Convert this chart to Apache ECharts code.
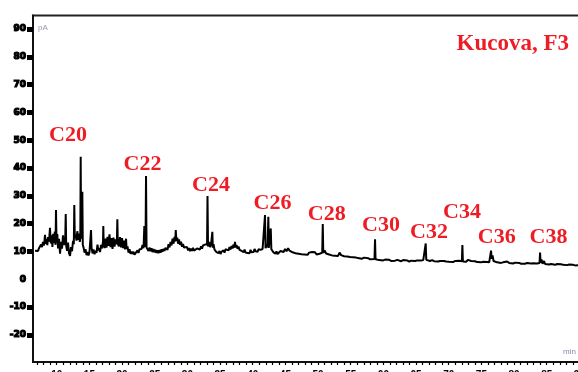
<!DOCTYPE html>
<html><head><meta charset="utf-8">
<script src="https://cdn.jsdelivr.net/npm/echarts@6/dist/echarts.min.js"></script>
<style>html,body{margin:0;padding:0;background:#fff}#c{width:578px;height:372px}</style>
</head><body><div id="c"></div>
<script>
// retention time (min), detector signal (pA)
const trace = [
[6.68,10.3],[6.83,10.0],[6.98,10.6],[7.14,10.2],[7.29,11.2],[7.44,10.8],[7.60,12.5],[7.75,11.6],[7.90,13.4],[8.06,12.2],
[8.21,16.0],[8.30,12.8],[8.44,14.5],[8.56,12.3],[8.67,15.2],[8.82,13.6],[8.97,18.5],[9.10,12.9],[9.22,15.8],[9.34,11.6],
[9.46,16.4],[9.59,13.0],[9.71,17.2],[9.82,12.4],[9.89,24.9],[9.97,13.2],[10.09,16.3],[10.20,11.1],[10.35,14.6],[10.51,9.2],
[10.66,13.5],[10.81,11.0],[10.96,15.8],[11.12,12.3],[11.30,14.1],[11.38,23.5],[11.45,12.0],[11.58,10.2],[11.73,13.2],[11.88,9.4],
[12.04,8.4],[12.19,11.6],[12.34,10.1],[12.50,13.8],[12.62,12.6],[12.69,26.7],[12.77,14.8],[12.89,16.2],[13.03,13.9],[13.15,17.3],
[13.29,14.2],[13.41,16.4],[13.54,13.5],[13.61,15.1],[13.67,44.1],[13.73,14.6],[13.84,15.2],[13.92,31.5],[13.99,12.4],[14.12,11.3],
[14.26,9.6],[14.41,10.8],[14.56,8.7],[14.71,9.8],[14.87,8.6],[15.02,9.9],[15.17,10.6],[15.25,17.7],[15.33,11.4],[15.48,9.3],
[15.63,10.7],[15.79,9.0],[15.94,10.3],[16.09,9.5],[16.24,12.5],[16.37,10.4],[16.47,11.2],[16.63,9.8],[16.78,12.4],[16.93,11.1],
[17.09,13.6],[17.13,19.2],[17.19,12.8],[17.32,11.2],[17.47,14.6],[17.62,11.4],[17.78,15.3],[17.93,12.0],[18.08,16.2],[18.24,11.6],
[18.39,14.8],[18.54,10.9],[18.69,15.0],[18.85,11.8],[19.00,14.4],[19.20,12.6],[19.28,21.6],[19.35,12.9],[19.51,11.8],[19.69,15.2],
[19.84,11.5],[20.00,14.8],[20.15,11.2],[20.30,13.9],[20.45,10.8],[20.61,14.6],[20.70,10.9],[20.84,11.8],[20.99,9.6],[21.14,10.8],
[21.30,9.2],[21.45,10.0],[21.60,9.1],[21.76,9.9],[21.91,8.9],[22.06,9.6],[22.21,9.0],[22.37,10.4],[22.52,9.5],[22.67,10.8],
[22.83,11.5],[22.98,10.9],[23.13,12.3],[23.29,11.2],[23.41,19.2],[23.48,12.6],[23.59,11.7],[23.67,37.2],[23.75,11.4],[23.90,11.0],
[24.05,10.2],[24.21,11.4],[24.36,10.1],[24.51,11.2],[24.66,9.8],[24.82,10.9],[24.97,9.7],[25.12,10.6],[25.28,9.5],[25.43,10.4],
[25.58,9.4],[25.74,10.5],[25.89,9.6],[26.04,10.8],[26.19,9.9],[26.35,11.0],[26.50,10.2],[26.65,11.3],[26.81,11.4],[26.96,10.6],
[27.11,12.6],[27.27,11.5],[27.42,13.4],[27.57,12.2],[27.73,14.6],[27.88,12.8],[28.03,15.3],[28.14,13.6],[28.22,17.7],[28.31,13.9],
[28.45,15.0],[28.57,12.8],[28.72,14.3],[28.87,12.4],[29.03,13.5],[29.18,11.7],[29.33,12.7],[29.49,11.4],[29.64,12.0],[29.79,10.8],
[29.94,11.6],[30.10,10.4],[30.25,11.2],[30.40,10.1],[30.56,11.0],[30.71,10.2],[30.86,11.3],[31.02,10.3],[31.17,11.0],[31.32,10.0],
[31.48,11.1],[31.63,10.5],[31.78,11.5],[31.93,10.7],[32.09,11.9],[32.24,11.0],[32.39,12.2],[32.55,11.5],[32.70,12.5],[32.85,11.8],
[33.01,12.6],[33.08,30.0],[33.16,11.8],[33.31,13.4],[33.47,11.6],[33.62,12.5],[33.74,11.9],[33.82,17.1],[33.89,11.4],[34.00,12.6],
[34.15,10.7],[34.31,11.3],[34.46,9.8],[34.61,10.5],[34.77,9.4],[34.92,10.2],[35.07,9.1],[35.22,9.9],[35.38,9.3],[35.53,10.4],
[35.68,9.6],[35.84,10.8],[35.99,10.1],[36.14,11.2],[36.30,10.4],[36.45,11.6],[36.60,10.7],[36.76,12.0],[36.91,11.1],[37.06,12.5],
[37.21,11.4],[37.29,13.5],[37.37,11.5],[37.52,12.3],[37.68,11.0],[37.83,11.8],[37.98,10.6],[38.14,11.3],[38.29,10.2],[38.44,10.9],
[38.60,9.8],[38.75,10.7],[38.90,9.6],[39.06,10.3],[39.21,9.5],[39.36,10.2],[39.52,9.4],[39.67,10.6],[39.82,9.7],[39.97,10.4],
[40.13,9.8],[40.28,10.9],[40.43,10.1],[40.59,10.5],[40.74,9.9],[40.89,10.8],[41.05,10.2],[41.20,10.6],[41.35,10.0],[41.51,10.9],
[41.66,10.3],[41.81,11.0],[41.88,23.1],[41.96,11.2],[42.12,12.6],[42.27,11.5],[42.39,22.5],[42.46,11.3],[42.61,11.6],[42.76,18.3],
[42.85,10.8],[43.03,11.4],[43.18,9.7],[43.34,10.4],[43.49,9.2],[43.64,10.0],[43.80,9.1],[43.95,9.8],[44.10,9.4],[44.26,10.2],
[44.41,9.6],[44.56,10.4],[44.72,9.8],[44.95,10.9],[45.18,10.1],[45.41,11.2],[45.64,10.3],[45.86,10.8],[46.09,9.7],[46.32,10.2],
[46.55,9.4],[46.78,9.9],[47.01,9.2],[47.24,9.7],[47.47,9.0],[47.70,9.6],[47.93,8.9],[48.16,9.5],[48.39,8.8],[48.62,9.6],
[48.85,9.0],[49.08,9.8],[49.31,9.1],[49.54,9.7],[49.77,8.9],[50.00,9.5],[50.23,9.2],[50.46,9.9],[50.64,9.6],[50.72,19.9],
[50.80,9.5],[51.00,10.4],[51.23,9.3],[51.46,9.9],[51.69,8.9],[51.92,9.4],[52.15,8.6],[52.38,9.2],[52.61,8.5],[52.84,9.0],
[53.06,8.4],[53.29,9.6],[53.52,8.7],[53.75,9.3],[53.98,8.3],[54.21,8.8],[54.44,8.2],[54.67,8.7],[54.90,8.0],[55.13,8.5],
[55.36,7.9],[55.59,8.3],[55.82,7.8],[56.05,8.2],[56.28,7.6],[56.51,7.9],[56.74,7.4],[57.05,7.8],[57.35,7.3],[57.66,7.6],
[57.97,7.2],[58.27,7.5],[58.64,7.3],[58.72,14.4],[58.80,7.2],[59.04,7.6],[59.35,6.9],[59.65,7.2],[59.96,6.8],[60.27,7.1],
[60.57,6.7],[60.88,7.0],[61.19,6.6],[61.49,6.9],[61.80,6.7],[62.11,7.0],[62.41,6.8],[62.72,6.5],[63.03,6.9],[63.33,6.6],
[63.64,6.8],[63.95,6.4],[64.26,6.7],[64.56,6.9],[64.87,6.6],[65.18,6.8],[65.48,6.5],[65.79,6.8],[66.10,6.9],[66.40,7.0],
[66.48,12.9],[66.56,7.0],[66.84,7.1],[67.14,6.6],[67.45,6.9],[67.76,6.5],[68.06,6.8],[68.37,6.4],[68.68,6.6],[68.98,6.3],
[69.29,6.6],[69.60,6.4],[69.90,6.9],[70.06,6.3],[70.36,6.7],[70.67,6.2],[70.98,6.6],[71.28,6.4],[71.59,6.7],[72.01,6.5],
[72.09,12.3],[72.17,6.4],[72.35,6.8],[72.66,6.3],[72.97,7.0],[73.12,6.4],[73.43,6.6],[73.73,6.3],[74.04,6.5],[74.35,6.2],
[74.65,6.4],[74.96,6.1],[75.27,6.3],[75.57,6.0],[75.88,6.2],[76.19,6.1],[76.40,6.8],[76.48,10.3],[76.56,7.4],[76.71,8.6],
[76.86,6.6],[77.09,6.9],[77.40,6.1],[77.70,6.2],[78.01,5.9],[78.32,6.1],[78.62,5.8],[78.93,6.4],[79.24,5.9],[79.54,6.0],
[79.85,5.7],[80.16,6.0],[80.46,5.8],[80.77,5.9],[81.08,5.6],[81.38,5.8],[81.69,5.6],[82.00,5.9],[82.30,5.5],[82.61,5.7],
[82.92,5.8],[83.22,5.5],[83.53,5.7],[83.90,5.9],[83.98,9.6],[84.06,6.0],[84.21,7.1],[84.36,5.6],[84.59,6.6],[84.75,5.5],
[85.05,5.7],[85.36,5.3],[85.67,5.5],[85.97,5.4],[86.28,5.2],[86.59,5.5],[86.89,5.3],[87.20,5.4],[87.51,5.2],[87.81,5.3],
[88.12,5.1],[88.43,5.3],[88.73,5.1],[89.04,5.2],[89.35,5.0],[89.80,5.1],[90.50,5.0],[91.50,5.1],[92.50,5.0]
];

const peakNames = ['C20','C22','C24','C26','C28','C30','C32','C34','C36','C38'];
const peakLabelTime = [11.73, 23.13, 33.62, 43.03, 51.33, 59.64, 66.99, 72.04, 77.35, 85.28];
const peakLabelLevel = [51.9, 41.5, 33.9, 27.4, 23.5, 19.5, 17.0, 24.2, 15.0, 15.0];

const yLabelValues = [-20, -10, 0, 10, 20, 30, 40, 50, 60, 70, 80, 90];
const yTickValues = [-20, -10, 10, 20, 30, 40, 50, 60, 70, 80, 90];
const xLabelValues = [10, 15, 20, 25, 30, 35, 40, 45, 50, 55, 60, 65, 70, 75, 80, 85, 90];
const xTickValues = [];
for (let m = 7; m <= 92; m++) xTickValues.push(m);

const sampleTitle = 'Kucova, F3';
const RED = '#ee1c25';

const chart = echarts.init(document.getElementById('c'), null, {renderer: 'canvas'});
chart.setOption({
  animation: false,
  backgroundColor: '#fff',
  title: {
    text: sampleTitle, right: 4, top: 28,
    textStyle: {fontFamily: 'Liberation Serif', fontWeight: 'bold', fontSize: 23, color: RED}
  },
  grid: {
    left: 33, top: 15.5, width: 566, bottom: 10,
    show: true, borderColor: '#222', borderWidth: 2,
    containLabel: false, outerBoundsMode: 'none'
  },
  xAxis: {
    type: 'value', min: 6.37, max: 93,
    axisLine: {show: true, onZero: false, lineStyle: {color: '#111', width: 2}},
    axisTick: {show: true, customValues: xTickValues, length: 3, lineStyle: {color: '#000', width: 1.2}},
    axisLabel: {show: true, customValues: xLabelValues, fontSize: 10, fontWeight: 'bold', color: '#000', margin: 8},
    splitLine: {show: false}
  },
  yAxis: {
    type: 'value', min: -29.75, max: 94.9,
    name: 'pA', nameLocation: 'end', nameGap: -16,
    nameTextStyle: {color: '#99a', fontSize: 8, align: 'left', padding: [0, 0, 0, 5]},
    axisLine: {show: true, onZero: false, lineStyle: {color: '#111', width: 2}},
    axisTick: {show: true, customValues: yTickValues, length: 6, lineStyle: {color: '#000', width: 5}},
    axisLabel: {show: true, customValues: yLabelValues, fontSize: 9, fontWeight: 'bold', fontFamily: 'DejaVu Sans',
      color: '#000', textBorderColor: '#000', textBorderWidth: 1.2, margin: 7},
    splitLine: {show: false}
  },
  graphic: [{
    type: 'text', right: 2, bottom: 16,
    style: {text: 'min', fontSize: 8, fill: '#88a'}
  }],
  series: [{
    type: 'line', data: trace, showSymbol: false, symbol: 'none', sampling: null,
    lineStyle: {color: '#000', width: 2}, z: 2
  }, {
    type: 'scatter', silent: true, symbolSize: 1, z: 5,
    itemStyle: {color: 'rgba(0,0,0,0)'},
    data: peakNames.map((n, i) => ({name: n, value: [peakLabelTime[i], peakLabelLevel[i]]})),
    label: {show: true, position: 'inside', formatter: '{b}', color: RED, opacity: 1,
      textBorderWidth: 0, fontFamily: 'Liberation Serif', fontWeight: 'bold', fontSize: 22}
  }]
});
</script>
</body></html>
